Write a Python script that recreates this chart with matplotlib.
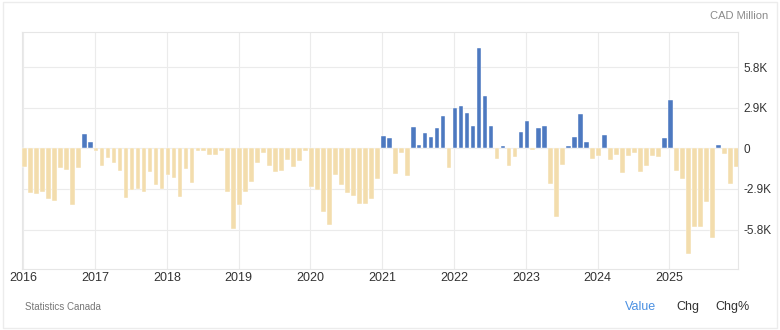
import matplotlib
matplotlib.use("Agg")
import matplotlib.pyplot as plt
from matplotlib.patches import Rectangle

plt.rcParams['font.family'] = ['Liberation Sans', 'DejaVu Sans']

# Monthly balance of trade, CAD million (thousands shown as K)
years = [2016, 2017, 2018, 2019, 2020, 2021, 2022, 2023, 2024, 2025]
v2016 = [-1.31, -3.19, -3.26, -3.09, -3.61, -3.78, -1.43, -1.52, -4.06, -1.38, 1.05, 0.43]
v2017 = [-0.17, -1.26, -0.67, -1.02, -1.59, -3.54, -2.95, -2.90, -3.14, -1.71, -2.61, -2.90]
v2018 = [-1.88, -2.09, -3.47, -1.45, -2.45, -0.19, -0.17, -0.50, -0.50, -0.19, -3.14, -5.75]
v2019 = [-4.04, -3.14, -2.38, -1.07, -0.31, -1.24, -1.66, -1.62, -0.83, -1.31, -0.88, -0.19]
v2020 = [-2.78, -2.97, -4.56, -5.51, -1.88, -2.61, -3.19, -3.42, -3.99, -3.95, -3.61, -2.16]
v2021 = [0.86, 0.74, -1.81, -0.33, -1.95, 1.52, 0.21, 1.07, 0.83, 1.47, 2.33, -1.38]
v2022 = [2.85, 3.00, 2.50, 1.57, 7.15, 3.71, 1.59, -0.74, 0.14, -1.26, -0.64, 1.14]
v2023 = [1.93, -0.14, 1.43, 1.59, -2.52, -4.92, -1.19, 0.17, 0.78, 2.47, 0.45, -0.74]
v2024 = [-0.52, 0.95, -0.81, -0.45, -1.76, -0.57, -0.33, -1.71, -1.26, -0.52, -0.64, 0.71]
v2025 = [3.47, -1.64, -2.16, -7.54, -5.61, -5.61, -3.83, -6.42, 0.21, -0.38, -2.57, -1.31]

ytick_vals = [-5.8, -2.9, 0, 2.9, 5.8]
ytick_labels = ['-5.8K', '-2.9K', '0', '2.9K', '5.8K']

series = [v2016, v2017, v2018, v2019, v2020, v2021, v2022, v2023, v2024, v2025]
x, vals = [], []
for yr, vs in zip(years, series):
    for m, v in enumerate(vs):
        x.append(yr + m / 12 + 0.015)
        vals.append(v)

pos_col = '#4d79c0'
neg_col = '#f3ddad'
colors = [pos_col if v >= 0 else neg_col for v in vals]

fig = plt.figure(figsize=(7.8, 3.3), dpi=100)
ax = fig.add_axes([22 / 780, 1 - 269.3 / 330, (738.3 - 22) / 780, (269.3 - 32.3) / 330])

ax.bar(x, vals, width=0.78 / 12, color=colors, edgecolor='white', linewidth=0.3, zorder=3)

ax.set_xlim(2015.982, 2025.961)
ax.set_ylim(-8.64, 8.29)

ax.set_xticks(years)
ax.set_xticklabels([str(y) for y in years])
ax.set_yticks(ytick_vals)
ax.set_yticklabels(ytick_labels)
ax.yaxis.tick_right()
ax.tick_params(axis='x', length=0, pad=2, labelsize=9, labelcolor='#333333')
ax.tick_params(axis='y', length=0, pad=4, labelsize=8.5, labelcolor='#333333')

ax.grid(True, color='#ebebeb', linewidth=0.8, zorder=0)
for s in ax.spines.values():
    s.set_color('#e6e6e6')
    s.set_linewidth(0.8)

fig.text(768 / 780, 1 - 15.7 / 330, 'CAD Million', ha='right', va='center', fontsize=8, color='#8a8a8a')
fig.text(25 / 780, 1 - 307 / 330, 'Statistics Canada', ha='left', va='center', fontsize=7, color='#777777')
fig.text(625 / 780, 1 - 307 / 330, 'Value', ha='left', va='center', fontsize=9, color='#4a90e2')
fig.text(676 / 780, 1 - 307 / 330, 'Chg', ha='left', va='center', fontsize=9, color='#333333')
fig.text(715 / 780, 1 - 307 / 330, 'Chg%', ha='left', va='center', fontsize=9, color='#333333')

fig.patches.append(Rectangle((3 / 780, 2 / 330), 774 / 780, 326 / 330, transform=fig.transFigure,
                             fill=False, edgecolor='#ececec', linewidth=1.0))

fig.savefig('out.png', dpi=100)
